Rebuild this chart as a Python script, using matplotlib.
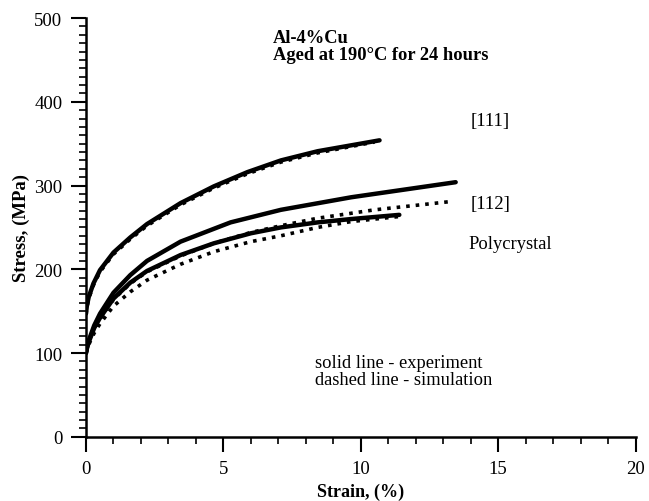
import matplotlib.pyplot as plt
from matplotlib.ticker import MultipleLocator

plt.rcParams['font.family'] = ['Liberation Serif', 'DejaVu Serif']

# Data (strain %, stress MPa)
strain_111_exp = [0.0, 0.03, 0.1, 0.27, 0.51, 1.0, 1.61, 2.22, 3.44, 4.65, 5.87, 7.09, 8.43, 10.68]
stress_111_exp = [147, 156, 167, 183, 199, 220, 238, 254, 279, 299, 316, 330, 341, 354]

strain_111_sim = [0.0, 0.03, 0.1, 0.27, 0.51, 1.0, 1.61, 2.22, 3.44, 4.65, 5.87, 7.09, 8.43, 10.5]
stress_111_sim = [146, 154, 165, 181, 197, 218, 236, 252, 277, 297, 314, 328, 339, 352]

strain_112_exp = [0.0, 0.03, 0.1, 0.3, 0.51, 1.0, 1.61, 2.22, 3.44, 5.26, 7.09, 9.65, 13.45]
stress_112_exp = [100, 106, 115, 133, 147, 172, 193, 210, 233, 256, 271, 286, 304]

strain_112_sim = [0.0, 0.03, 0.1, 0.3, 0.51, 1.0, 1.61, 2.22, 3.44, 4.65, 6.0, 7.09, 8.43, 10.5, 13.3]
stress_112_sim = [100, 104, 112, 129, 141, 164, 183, 197, 216, 231, 244, 252, 261, 271, 281]

strain_poly_exp = [0.0, 0.03, 0.1, 0.3, 0.51, 1.0, 1.61, 2.22, 3.44, 4.65, 6.0, 7.09, 8.43, 9.65, 11.4]
stress_poly_exp = [100, 105, 113, 130, 142, 165, 184, 198, 217, 231, 243, 250, 256, 260, 265]

strain_poly_sim = [0.0, 0.03, 0.1, 0.3, 0.51, 1.0, 1.61, 2.22, 3.44, 4.65, 6.0, 7.09, 8.43, 9.65, 11.4]
stress_poly_sim = [100, 103, 110, 124, 135, 156, 173, 187, 206, 221, 233, 240, 250, 257, 263]

fig = plt.figure(figsize=(6.49, 5.02), dpi=100)
ax = fig.add_axes([0.1325, 0.128, 0.847, 0.834])

ax.plot(strain_111_exp, stress_111_exp, '-', color='black', lw=3.2, solid_capstyle='round')
ax.plot(strain_111_sim, stress_111_sim, ':', color='black', lw=2.6)
ax.plot(strain_112_exp, stress_112_exp, '-', color='black', lw=3.2, solid_capstyle='round')
ax.plot(strain_112_sim, stress_112_sim, ':', color='black', lw=2.6)
ax.plot(strain_poly_exp, stress_poly_exp, '-', color='black', lw=3.2, solid_capstyle='round')
ax.plot(strain_poly_sim, stress_poly_sim, ':', color='black', lw=2.6)

ax.set_xlim(0, 20)
ax.set_ylim(0, 500)
ax.xaxis.set_major_locator(MultipleLocator(5))
ax.xaxis.set_minor_locator(MultipleLocator(1))
ax.yaxis.set_major_locator(MultipleLocator(100))
ax.yaxis.set_minor_locator(MultipleLocator(10))
ax.tick_params(which='major', direction='out', length=11, width=1.5, labelsize=13.5, pad=6)
ax.tick_params(which='minor', direction='out', length=5, width=1.2)

for s in ['top', 'right']:
    ax.spines[s].set_visible(False)
for s in ['left', 'bottom']:
    ax.spines[s].set_linewidth(1.8)

ax.set_xlabel('Strain, (%)', fontsize=13, fontweight='bold', labelpad=4)
ax.set_ylabel('Stress, (MPa)', fontsize=13.5, fontweight='bold', labelpad=3)

ax.text(6.8, 467, 'Al-4%Cu\nAged at 190\u00b0C for 24 hours', fontsize=13.3,
        fontweight='bold', va='center', ha='left', linespacing=1.0)
ax.text(14.0, 378, '[111]', fontsize=13.5, va='center')
ax.text(14.0, 279, '[112]', fontsize=13.5, va='center')
ax.text(13.9, 231, 'Polycrystal', fontsize=13.3, va='center')
ax.text(8.35, 78, 'solid line - experiment\ndashed line - simulation', fontsize=13.3,
        va='center', ha='left', linespacing=1.0)

fig.savefig('out.png', dpi=100)
